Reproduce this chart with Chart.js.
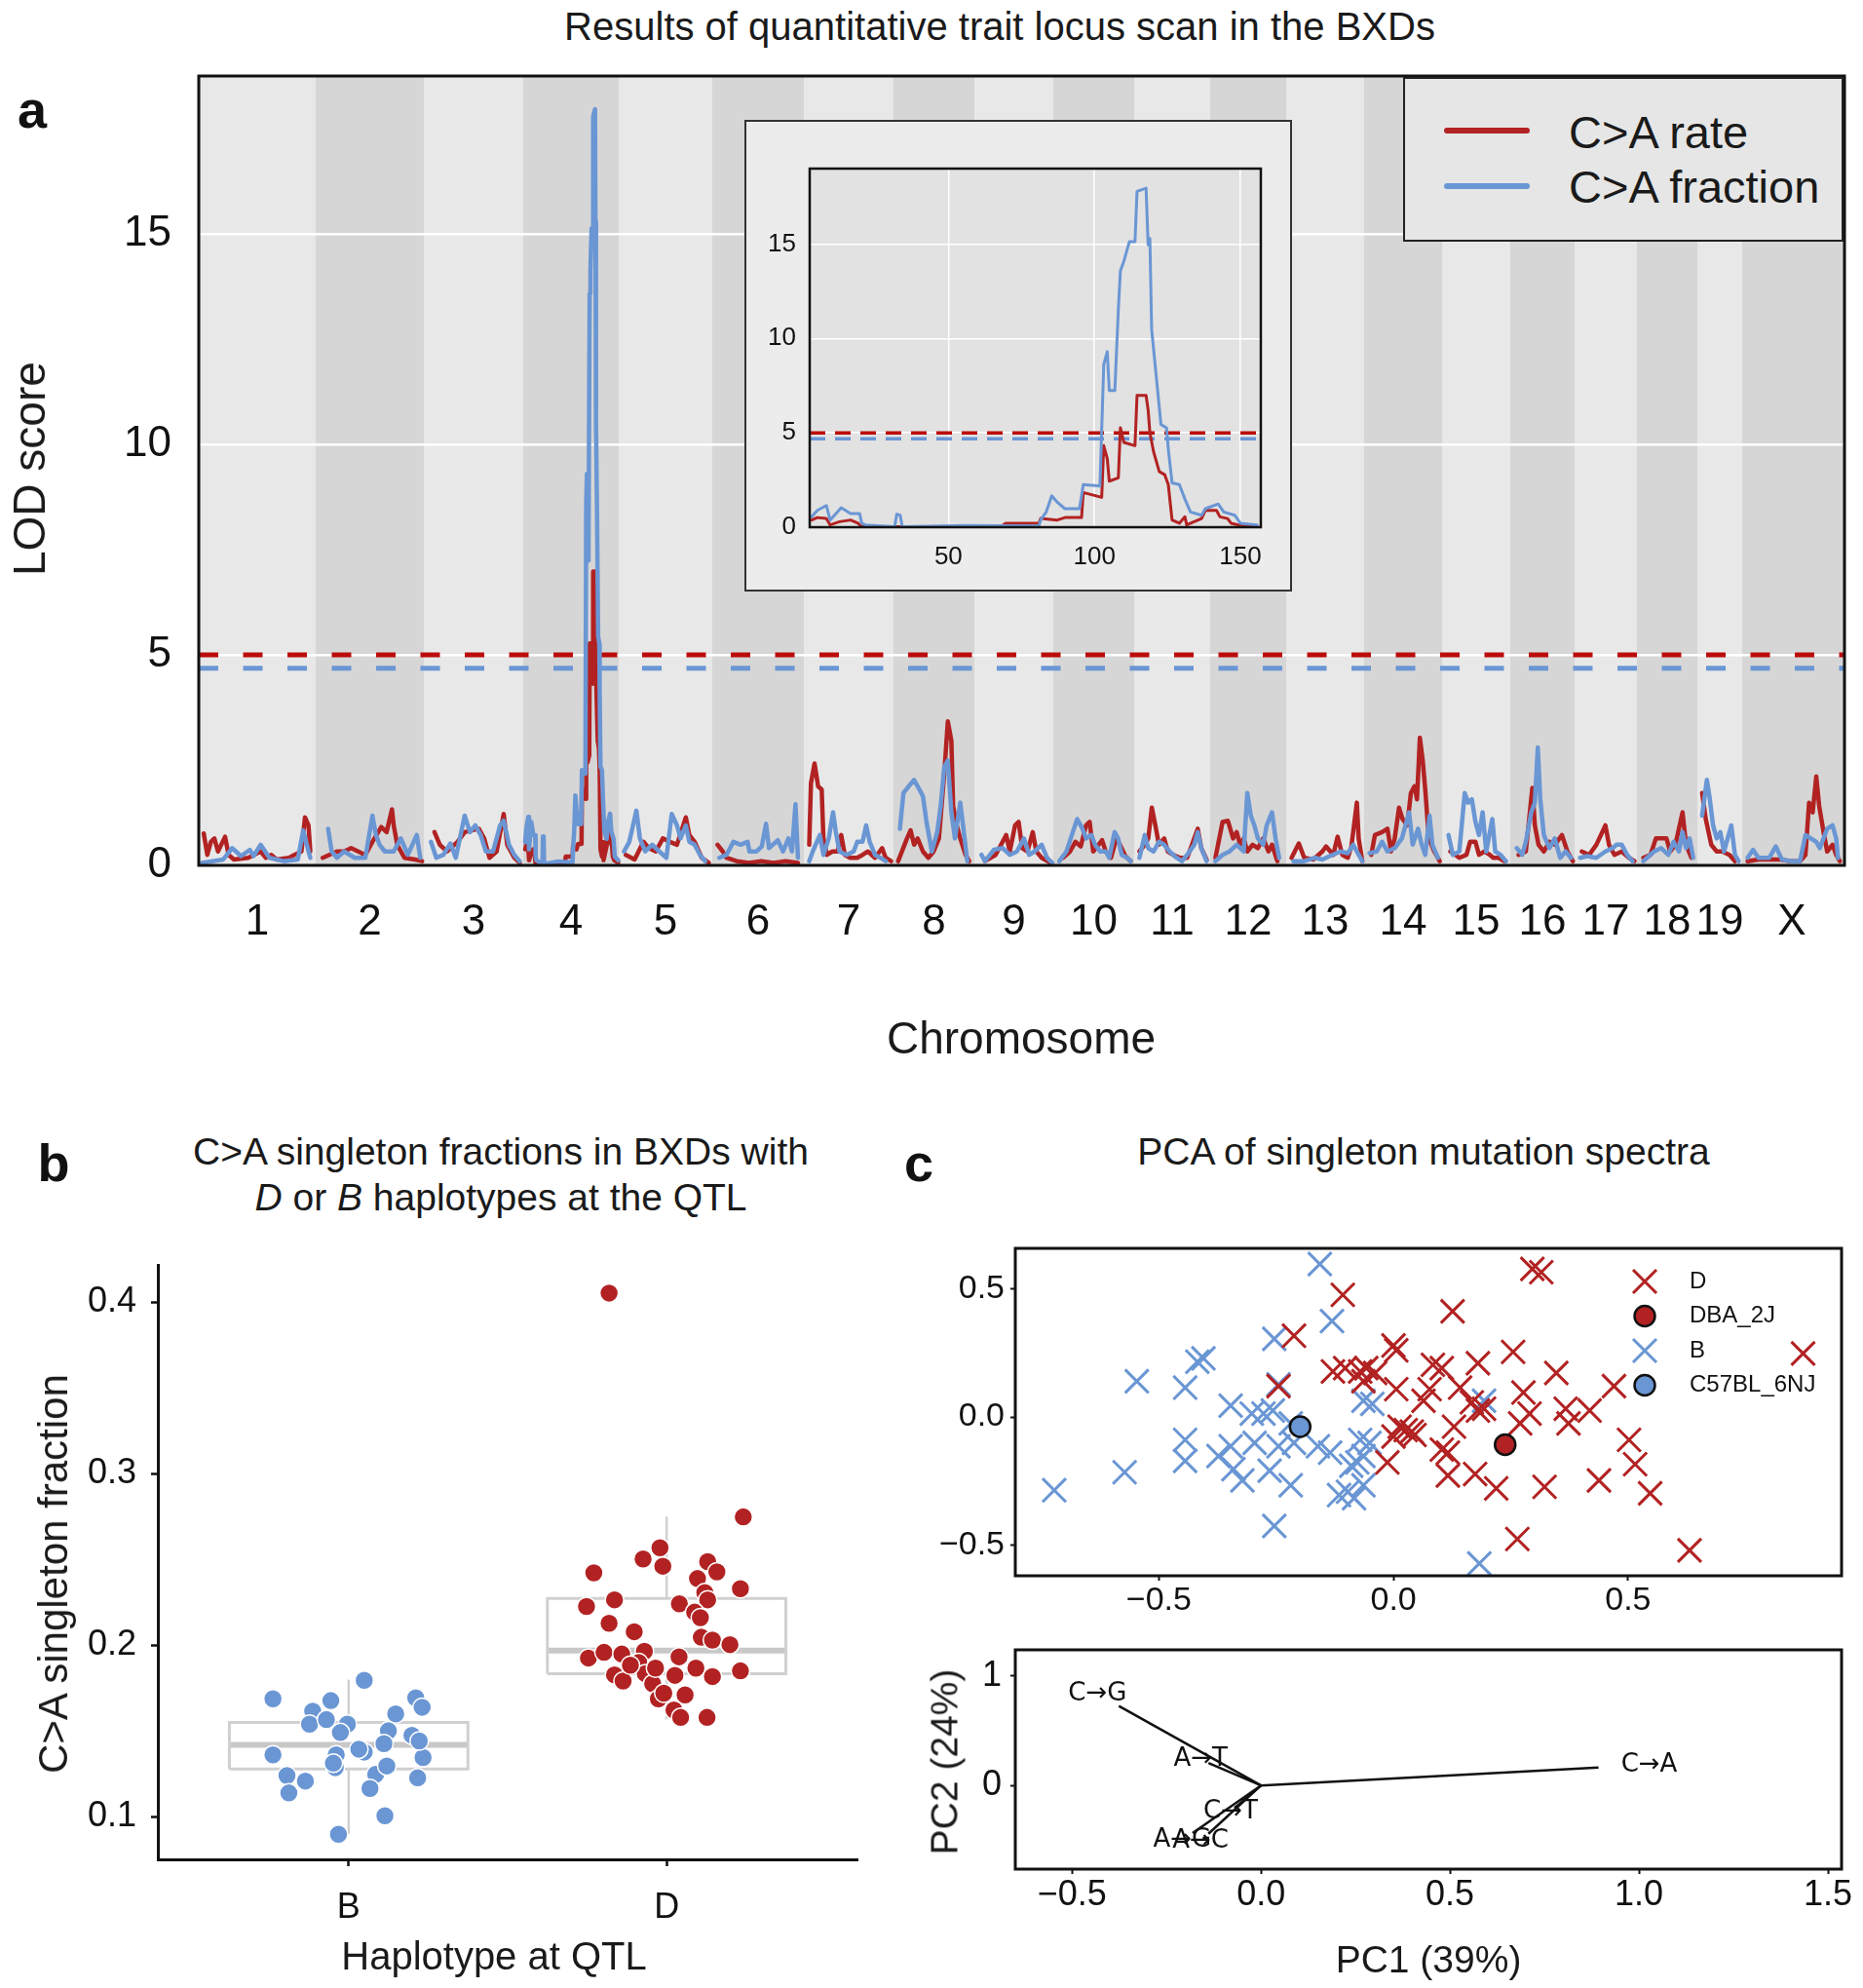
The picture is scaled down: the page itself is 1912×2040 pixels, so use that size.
<!DOCTYPE html>
<html>
<head>
<meta charset="utf-8">
<title>QTL scan in the BXDs</title>
<script src="https://cdn.jsdelivr.net/npm/chart.js@4.4.1/dist/chart.umd.min.js"></script>
<style>
  html, body { margin: 0; padding: 0; background: #ffffff; }
  body { position: relative; width: 1912px; height: 2040px; overflow: hidden;
         font-family: "Liberation Sans", Arial, Helvetica, sans-serif; color: #1a1a1a; }
  canvas { position: absolute; }
  .t { position: absolute; white-space: nowrap; line-height: 1; transform: translate(-50%, -50%); }
  .tl { position: absolute; white-space: nowrap; line-height: 1; transform: translate(0, -50%); }
  .rot { transform: translate(-50%, -50%) rotate(-90deg); }
  .letter { font-weight: bold; font-size: 54px; color: #111; }
  .swatch { position: absolute; width: 88px; height: 6px; border-radius: 3px; }
</style>
</head>
<body>
<!-- panel a -->
<div class="t" style="left:1026px;top:27px;font-size:40px">Results of quantitative trait locus scan in the BXDs</div>
<div class="t letter" style="left:33px;top:112px">a</div>
<canvas id="scan" width="1912" height="1120" style="left:0;top:0;width:1912px;height:1120px"></canvas>
<div class="t rot" style="left:30px;top:481px;font-size:46px">LOD score</div>
<div class="t" style="left:1048px;top:1065px;font-size:46px">Chromosome</div>
<div style="position:absolute;left:764px;top:123px;width:562px;height:484px;box-sizing:border-box;background:#ececec;border:2px solid #333"></div>
<canvas id="inset" width="562" height="484" style="left:764px;top:123px;width:562px;height:484px"></canvas>
<div style="position:absolute;left:1440px;top:79px;width:452px;height:169px;box-sizing:border-box;background:#e6e6e6;border:2.5px solid #222"></div>
<div class="swatch" style="left:1482px;top:131px;background:#b22222"></div>
<div class="swatch" style="left:1482px;top:188px;background:#6a96d4"></div>
<div class="tl" style="left:1610px;top:135px;font-size:47px">C&gt;A rate</div>
<div class="tl" style="left:1610px;top:191px;font-size:47px">C&gt;A fraction</div>

<!-- panel b -->
<div class="t letter" style="left:55px;top:1193px">b</div>
<div class="t" style="left:514px;top:1181px;font-size:39px">C&gt;A singleton fractions in BXDs with</div>
<div class="t" style="left:514px;top:1228px;font-size:39px"><i>D</i> or <i>B</i> haplotypes at the QTL</div>
<canvas id="haplo" width="940" height="790" style="left:0;top:1250px;width:940px;height:790px"></canvas>
<div class="t rot" style="left:55px;top:1615px;font-size:42px">C&gt;A singleton fraction</div>
<div class="t" style="left:507px;top:2007px;font-size:40px">Haplotype at QTL</div>

<!-- panel c -->
<div class="t letter" style="left:943px;top:1193px">c</div>
<div class="t" style="left:1461px;top:1181px;font-size:39px">PCA of singleton mutation spectra</div>
<canvas id="pca" width="972" height="440" style="left:940px;top:1240px;width:972px;height:440px"></canvas>
<canvas id="biplot" width="972" height="390" style="left:940px;top:1650px;width:972px;height:390px"></canvas>
<div class="t rot" style="left:969px;top:1808px;font-size:39px">PC2 (24%)</div>
<div class="t" style="left:1466px;top:2010px;font-size:39px">PC1 (39%)</div>

<script>
// ---------- data: panel a ----------
const chromosomes = ["1","2","3","4","5","6","7","8","9","10","11","12","13","14","15","16","17","18","19","X"];
// chromosome length in Mb (units of the scan positions below)
const chromMb = [195.5,182.1,160.0,156.5,151.8,149.7,145.4,129.4,124.6,130.7,122.1,120.1,120.4,124.9,104.0,98.2,95.0,90.7,61.4,171.0];
// width each chromosome takes on the genome axis of the figure
const chromWidths = [187.4,173.4,159.3,153,150,146.8,143.7,129.6,126.5,129.6,121.8,121.8,125,125,109.3,103.1,100,96.8,71.8,159.3];
const lodTicks = [0, 5, 10, 15];
const insetTicksX = [50, 100, 150];
const rateThreshold = 5.0;
const fractionThreshold = 4.68;

// chromosome 4 in detail (inset), [Mb, LOD]
const insetRate = [[3.2,0.38],[5.1,0.51],[8.2,0.46],[9.5,0.12],[12.7,0.29],[16.5,0.38],[19,0.21],[20.3,0.03],[68,0.03],[69.6,0.21],[81,0.21],[81.6,0.46],[87.3,0.38],[89.9,0.51],[95.6,0.51],[96.2,1.84],[100.6,1.66],[102.5,1.58],[103.2,4.32],[104.4,3.64],[105.1,2.44],[108.2,2.61],[108.9,5.27],[110.1,4.49],[113.9,4.32],[114.6,6.98],[117.7,6.98],[118.4,6.21],[119,5.01],[120.3,3.98],[122.2,2.95],[124.1,2.78],[125.3,2.26],[126.6,0.38],[129.1,0.21],[131,0.55],[131.6,0.12],[136.7,0.46],[138,0.89],[141.8,0.89],[143,0.55],[145.6,0.46],[146.8,0.21],[149.4,0.12],[155.7,0.07]];
const insetFraction = [[3.2,0.55],[5.1,0.89],[8.2,1.15],[9.5,0.38],[13.3,1.03],[16.5,0.72],[19.6,0.72],[20.3,0.21],[21.5,0.12],[31.6,0.03],[32.3,0.69],[33.5,0.63],[34.2,0.03],[55.7,0.09],[81,0.07],[81.6,0.38],[83.5,0.81],[85.4,1.66],[87.3,1.32],[89.9,0.98],[94.9,0.98],[96.2,2.26],[101.9,2.18],[103.2,8.61],[104.4,9.3],[105.1,7.24],[107,7.24],[108.2,11.53],[108.9,13.58],[110.1,14.1],[112,15.13],[113.9,15.13],[114.6,17.79],[117.7,17.96],[118.4,14.96],[119,15.3],[119.6,10.5],[120.9,8.44],[122.8,5.44],[124.7,5.27],[125.3,4.15],[126.6,2.35],[129.1,2.26],[131,1.49],[132.9,0.81],[136.7,0.63],[138,0.98],[142.4,1.23],[144.3,0.81],[148.1,0.63],[150,0.21],[155.7,0.12]];

// genome-wide scans, one list of [Mb, LOD] per chromosome
const rateScan = [
  [[8.3,0.76],[14.3,0.25],[20.2,0.56],[26.1,0.64],[32.1,0.33],[44,0.68],[49.9,0.25],[58.8,0.14],[82.6,0.18],[103.4,0.33],[112.3,0.18],[121.2,0.25],[130.1,0.14],[150.9,0.18],[159.8,0.25],[171.7,0.33],[177.6,1.14],[183.5,0.95],[186.5,0.33]],
  [[11.9,0.18],[35.8,0.33],[47.8,0.33],[59.7,0.41],[71.6,0.33],[83.6,0.25],[95.5,0.56],[110.4,0.91],[119.4,0.79],[128.4,1.33],[131.3,0.95],[137.3,0.49],[149.3,0.18],[167.2,0.14],[179.1,0.1]],
  [[17.1,0.79],[25.7,0.49],[37.1,0.33],[54.2,0.56],[65.7,0.79],[77.1,0.83],[88.5,0.87],[97.1,0.64],[105.6,0.18],[117.1,0.33],[128.5,1.22],[134.2,0.49],[145.6,0.18],[154.2,0.06]],
  insetRate,
  [[11.5,0.25],[25.8,0.14],[40.1,0.56],[48.7,0.41],[60.2,0.33],[71.6,0.64],[83.1,0.56],[94.5,0.49],[108.9,1.14],[114.6,0.72],[123.2,0.56],[134.7,0.18],[146.1,0.06]],
  [[8.6,0.49],[17.2,0.33],[23.1,0.18],[40,0.1],[60,0.06],[80,0.1],[100,0.06],[120,0.1],[140,0.06]],
  [[8.7,0.49],[11.5,1.95],[17.3,2.42],[23.1,1.88],[28.9,1.8],[31.7,0.64],[37.5,0.25],[46.2,0.33],[54.8,0.33],[60.6,0.72],[66.4,0.25],[75,0.18],[86.6,0.18],[95.2,0.25],[103.9,0.33],[115.4,0.18],[126.9,0.41],[132.7,0.18],[141.4,0.1]],
  [[7.4,0.1],[21.6,0.64],[27.3,0.83],[32.9,0.49],[38.6,0.64],[47.1,0.33],[55.7,0.18],[64.2,0.33],[72.7,0.64],[81.2,2.18],[86.9,3.42],[92.6,2.96],[95.4,1.41],[101.1,0.95],[106.8,0.64],[115.3,0.25],[121,0.1]],
  [[16.8,0.1],[33.5,0.25],[50.3,0.72],[55.9,0.33],[64.3,0.95],[69.9,1.03],[75.5,0.41],[83.9,0.33],[92.2,0.79],[97.8,0.33],[106.2,0.18],[120.2,0.06]],
  [[15.6,0.18],[27.1,0.33],[35.7,0.56],[44.4,0.45],[53,0.95],[58.8,1.03],[64.5,0.33],[73.2,0.49],[78.9,0.6],[84.7,0.33],[93.3,0.18],[102,0.64],[107.7,0.49],[116.4,0.22],[125,0.1]],
  [[8.5,0.33],[17,0.49],[22.7,0.64],[28.4,1.37],[34.1,0.95],[39.8,0.49],[48.3,0.64],[54,0.33],[62.5,0.25],[73.8,0.18],[85.2,0.18],[102.2,0.87],[107.9,0.41],[116.4,0.14]],
  [[8.4,0.18],[19.6,1.03],[28,1.06],[36.3,0.64],[41.9,0.79],[47.5,0.49],[53.1,0.64],[58.7,0.33],[67.1,0.49],[75.5,0.41],[83.9,0.64],[92.2,0.33],[97.8,0.49],[106.2,0.1]],
  [[8.4,0.18],[19.6,0.52],[28,0.18],[42,0.14],[56,0.33],[61.6,0.45],[72.8,0.25],[79.5,0.68],[86.8,0.25],[95.2,0.18],[100.8,0.45],[109.2,1.49],[112,0.64],[117.6,0.1]],
  [[11.5,0.25],[17.3,0.72],[28.8,0.79],[37.4,0.87],[43.2,0.33],[49,0.64],[55.9,1.37],[61.6,1.1],[69.1,0.95],[74.9,1.72],[80.6,1.88],[84.7,1.57],[89.3,3.03],[93.9,2.49],[97.9,1.8],[103.7,0.64],[112.3,0.33],[121,0.1]],
  [[12.6,0.33],[26.3,0.18],[37.2,0.25],[42.7,0.56],[50.9,0.56],[56.3,0.25],[64.5,0.33],[72.8,0.25],[78.2,0.18],[86.4,0.18],[94.6,0.1]],
  [[12.7,0.25],[23.7,0.33],[33.7,1.84],[37.5,0.95],[43.1,0.49],[51.3,0.33],[59.6,0.56],[67.9,0.49],[78.9,0.72],[87.2,0.33],[95.5,0.1]],
  [[11,0.33],[22.1,0.25],[33.1,0.49],[46.9,0.95],[52.4,0.49],[60.7,0.25],[71.8,0.33],[82.8,0.18],[91.1,0.1]],
  [[9.6,0.18],[20.3,0.25],[28.3,0.64],[36.3,0.64],[44.3,0.64],[49.7,0.33],[57.7,0.49],[68.4,1.26],[73.7,0.49],[81.7,0.18]],
  [[6.5,1.72],[11.5,1.1],[19,0.49],[26.5,0.33],[34,0.33],[44,0.25],[51.5,0.1]],
  [[9.3,0.1],[28,0.14],[46.7,0.14],[65.3,0.14],[84,0.1],[99.5,0.1],[108.9,0.25],[115.1,1.49],[121.3,1.26],[127.5,2.11],[132.5,1.41],[140,0.79],[146.2,0.33],[155.5,0.49],[161.7,0.25],[168,0.1]]
];
const fractionScan = [
  [[5.3,0.06],[23.2,0.1],[41,0.14],[55.8,0.41],[70.7,0.22],[85.5,0.37],[91.5,0.22],[103.4,0.49],[118.2,0.18],[142,0.1],[165.7,0.14],[174.6,0.83],[180.6,0.49],[186.5,0.18]],
  [[20.9,0.87],[26.9,0.33],[35.8,0.18],[47.8,0.33],[65.7,0.18],[83.6,0.18],[95.5,1.18],[101.5,0.72],[107.5,0.49],[116.4,0.33],[131.3,0.33],[143.3,0.64],[155.2,0.25],[170.1,0.72],[176.1,0.18]],
  [[11.4,0.56],[20,0.18],[31.4,0.25],[42.8,0.52],[51.4,0.18],[65.7,1.18],[74.2,0.79],[82.8,0.95],[91.4,0.72],[99.9,0.33],[111.3,0.33],[122.8,0.95],[128.5,1.06],[137,0.49],[145.6,0.25],[154.2,0.1]],
  insetFraction,
  [[8.6,0.33],[17.2,0.56],[28.7,1.3],[34.4,0.64],[43,0.33],[54.4,0.49],[65.9,0.33],[77.4,0.18],[86,1.22],[94.5,0.95],[100.3,0.64],[108.9,0.95],[114.6,0.56],[123.2,0.49],[131.8,0.25],[140.4,0.1]],
  [[11.5,0.18],[23.1,0.25],[34.6,0.56],[46.2,0.49],[57.8,0.56],[60.7,0.33],[72.3,0.33],[80.9,0.45],[87.9,0.99],[92.6,0.41],[101.2,0.52],[107,0.6],[115.7,0.33],[124.4,0.64],[130.2,0.33],[136,1.45],[140,0.18]],
  [[8.7,0.1],[14.4,0.33],[26,0.72],[31.7,0.25],[40.4,0.64],[47.3,1.26],[51.9,0.79],[57.7,0.33],[69.2,0.25],[80.8,0.33],[86.6,0.56],[95.2,0.56],[101,0.95],[106.7,0.56],[115.4,0.25],[124.1,0.18],[132.7,0.1]],
  [[10.2,0.87],[15.9,1.72],[24.4,1.88],[32.9,2.03],[41.5,1.8],[47.1,1.64],[52.8,1.03],[61.3,0.33],[69.9,0.79],[75.5,1.41],[81.2,2.34],[86.9,2.49],[92.6,1.26],[98.3,0.64],[106.8,1.49],[112.5,0.79],[118.1,0.1]],
  [[11.2,0.25],[16.8,0.1],[30.7,0.37],[44.7,0.41],[55.9,0.25],[67.1,0.33],[78.3,0.64],[86.6,0.25],[95,0.33],[106.2,0.49],[114.6,0.18],[123,0.06]],
  [[9.8,0.1],[21.3,0.33],[30,0.72],[38.6,1.1],[47.2,0.87],[53,0.64],[61.6,0.72],[67.4,0.49],[76,0.33],[84.7,0.33],[90.4,0.18],[99.1,0.79],[104.8,0.64],[110.6,0.25],[119.2,0.18],[125,0.1]],
  [[8.5,0.18],[17,0.72],[22.7,0.41],[31.2,0.33],[39.8,0.56],[48.3,0.49],[56.8,0.33],[68.2,0.18],[76.7,0.1],[85.2,0.25],[96.6,0.49],[102.2,0.79],[107.9,0.41],[116.4,0.1]],
  [[8.4,0.1],[19.6,0.25],[30.7,0.33],[41.9,0.49],[53.1,0.33],[58.7,1.72],[64.3,1.18],[69.9,0.95],[75.5,0.64],[83.9,0.49],[89.4,0.95],[97.8,1.26],[103.4,0.64],[109,0.18]],
  [[11.2,0.1],[28,0.1],[44.8,0.18],[56,0.14],[67.2,0.22],[84,0.33],[95.2,0.29],[103.6,0.49],[112,0.25],[117.6,0.1]],
  [[8.6,0.29],[20.2,0.33],[28.8,0.56],[37.4,0.33],[49,0.41],[60.5,0.64],[72,1.26],[77.8,0.49],[86.4,0.87],[92.2,0.49],[97.9,0.25],[104.8,1.18],[109.4,0.49],[118.1,0.18]],
  [[9.8,0.72],[16.4,0.25],[26.3,0.33],[34.5,1.72],[39.9,1.49],[45.4,1.57],[50.9,1.03],[56.3,0.72],[61.8,1.26],[67.3,0.33],[76.6,1.1],[81,0.33],[89.2,0.25],[97.4,0.1]],
  [[9.9,0.41],[18.2,0.25],[23.7,0.56],[32,1.26],[37.5,1.49],[42,2.8],[45.8,1.57],[51.3,0.72],[59.6,0.41],[67.9,0.64],[76.2,0.18],[84.5,0.33],[92.7,0.18]],
  [[8.3,0.18],[19.3,0.22],[33.1,0.18],[46.9,0.33],[58,0.41],[63.5,0.49],[71.8,0.49],[80,0.25],[88.3,0.1]],
  [[9.6,0.1],[25.6,0.33],[36.3,0.41],[47,0.25],[55,0.56],[63,0.33],[68.4,0.79],[73.7,0.41],[79,0.64],[84.4,0.18]],
  [[6.5,1.18],[13,2.03],[16.5,1.64],[21.5,0.95],[26.5,0.64],[31.5,0.79],[36.5,0.33],[41.5,0.64],[46.5,0.95],[51.5,0.25],[56.5,0.1]],
  [[9.3,0.18],[18.7,0.37],[28,0.18],[46.7,0.18],[57.8,0.45],[68.4,0.14],[84,0.1],[99.5,0.1],[108.9,0.72],[118.2,0.64],[127.5,0.56],[133.7,0.41],[146.2,0.87],[155.5,0.95],[161.7,0.64],[164.8,0.18]]
];

// ---------- data: panel b ----------
const haplotypes = ["B", "D"];
const fractionTicks = [0.1, 0.2, 0.3, 0.4];
// horizontal jitter of each strain around its haplotype column
const bJitter = [-0.238,-0.113,-0.056,-0.123,-0.070,-0.004,0.049,0.148,0.211,0.231,-0.026,0.125,0.199,-0.238,-0.039,0.049,0.111,-0.194,-0.136,-0.042,0.085,0.120,0.217,0.234,0.222,-0.188,0.067,0.114,-0.032,-0.048,0.032];
const bFraction = [0.1688,0.1616,0.1678,0.1541,0.1567,0.1541,0.1796,0.1600,0.1694,0.1639,0.1492,0.1502,0.1476,0.1362,0.1362,0.1378,0.1427,0.1241,0.1209,0.1287,0.1248,0.1297,0.1228,0.1346,0.1443,0.1140,0.1166,0.1007,0.0899,0.1313,0.1395];
const dJitter = [-0.181,0.241,-0.021,-0.074,-0.012,-0.229,0.129,0.158,0.097,0.232,0.120,0.129,-0.164,-0.252,0.040,0.088,0.106,-0.181,-0.102,0.109,0.144,0.199,-0.246,-0.197,-0.141,-0.070,-0.088,0.039,0.092,0.144,0.232,-0.164,-0.137,-0.067,0.026,-0.044,-0.026,-0.009,0.058,0.023,0.044,0.127,-0.035,-0.114];
const dFraction = [0.4052,0.2748,0.2568,0.2503,0.2461,0.2422,0.2487,0.2428,0.2389,0.2330,0.2307,0.2265,0.2265,0.2226,0.2242,0.2193,0.2161,0.2128,0.2079,0.2047,0.2030,0.2004,0.1926,0.1959,0.1949,0.1965,0.1900,0.1933,0.1867,0.1818,0.1851,0.1828,0.1792,0.1835,0.1825,0.1776,0.1688,0.1721,0.1711,0.1623,0.1580,0.1580,0.1867,0.1884];
const boxQ1 = [0.128, 0.1835];
const boxMedian = [0.142, 0.197];
const boxQ3 = [0.155, 0.2273];
const whiskerLow = [0.09, 0.157];
const whiskerHigh = [0.18, 0.275];
const boxHalf = 0.375;

// ---------- data: panel c ----------
const pcaTicks = [-0.5, 0, 0.5];
const dPC1 = [0.296,0.315,-0.108,0.126,-0.212,0.000,0.006,0.255,0.873,-0.129,-0.103,-0.071,-0.058,-0.039,0.084,0.103,0.180,0.347,0.470,-0.245,-0.064,0.006,0.077,0.142,0.277,0.064,0.167,0.193,0.180,0.290,0.367,0.418,0.373,0.013,0.026,0.039,0.045,0.000,0.129,0.270,0.502,0.103,0.116,-0.013,0.515,0.116,0.174,0.219,0.322,0.438,0.547,0.264,0.631];
const dPC2 = [0.576,0.563,0.475,0.411,0.316,0.278,0.259,0.253,0.247,0.177,0.190,0.177,0.190,0.171,0.203,0.190,0.209,0.171,0.120,0.120,0.139,0.108,0.108,0.114,0.095,0.063,0.057,0.032,0.025,0.013,0.032,0.025,-0.025,-0.038,-0.051,-0.057,-0.070,-0.076,-0.038,-0.025,-0.089,-0.127,-0.139,-0.177,-0.184,-0.228,-0.222,-0.278,-0.272,-0.247,-0.297,-0.475,-0.519];
const bPC1 = [-0.157,-0.131,-0.254,-0.418,-0.405,-0.547,-0.444,-0.245,-0.347,-0.302,-0.277,-0.257,-0.444,-0.347,-0.296,-0.245,-0.212,-0.161,-0.135,-0.071,-0.051,-0.064,-0.045,0.193,-0.444,-0.573,-0.341,-0.264,-0.077,-0.090,-0.322,-0.219,-0.116,-0.097,-0.064,-0.084,-0.723,-0.254,0.183,-0.219,-0.373,-0.064];
const bPC2 = [0.595,0.373,0.304,0.215,0.228,0.139,0.114,0.127,0.044,0.013,0.013,0.025,-0.089,-0.114,-0.101,-0.114,-0.101,-0.114,-0.139,-0.089,-0.101,0.063,0.051,0.063,-0.171,-0.215,-0.203,-0.209,-0.177,-0.190,-0.247,-0.266,-0.304,-0.291,-0.266,-0.316,-0.285,-0.424,-0.570,-0.025,-0.152,-0.152];
const dbaPC = [0.238, -0.108];
const c57PC = [-0.199, -0.038];
const biplotTicksX = [-0.5, 0, 0.5, 1.0, 1.5];
const biplotTicksY = [0, 1];
const loadingLabels = ["C\u2192A", "C\u2192G", "A\u2192T", "C\u2192T", "A\u2192G", "A\u2192C"];
const loadingPC1 = [0.893, -0.376, -0.139, -0.07, -0.181, -0.139];
const loadingPC2 = [0.163, 0.727, 0.206, -0.207, -0.435, -0.442];
const labelStretch = 1.15;

// ---------- styling ----------
const RED = "#b22222";
const BLUE = "#6a96d4";
const INK = "#111111";
const FONT = '"Liberation Sans", Arial, Helvetica, sans-serif';
Chart.defaults.font.family = FONT;
Chart.defaults.color = INK;
Chart.defaults.animation = false;
Chart.defaults.plugins.legend.display = false;
Chart.defaults.plugins.tooltip.enabled = false;

const setTicks = (values) => (scale) => { scale.ticks = values.map((v) => ({ value: v })); };
const xy = (xs, ys) => xs.map((x, i) => ({ x: x, y: ys[i] }));
const hline = (x0, x1, y) => [{ x: x0, y: y }, { x: x1, y: y }];

const framePlugin = (width) => ({
  id: "frame",
  afterDraw(chart) {
    const { ctx, chartArea: a } = chart;
    ctx.save();
    ctx.strokeStyle = INK;
    ctx.lineWidth = width;
    ctx.strokeRect(a.left, a.top, a.right - a.left, a.bottom - a.top);
    ctx.restore();
  }
});

// ---------- panel a: genome scan ----------
const chromStarts = [];
const genomeLength = chromWidths.reduce((acc, w, i) => { chromStarts[i] = acc; return acc + w; }, 0);
const chromCenters = chromStarts.map((s, i) => s + chromWidths[i] / 2);
const genomeMax = genomeLength * 1689 / 1686;

function scanPoints(scan) {
  const pts = [];
  scan.forEach((chrom, i) => {
    chrom.forEach(([mb, lod]) => pts.push({ x: chromStarts[i] + mb / chromMb[i] * chromWidths[i], y: lod }));
    pts.push({ x: chromStarts[i] + chromWidths[i], y: null }); // no line across chromosomes
  });
  return pts;
}

const bandPlugin = {
  id: "bands",
  beforeDraw(chart) {
    const { ctx, chartArea: a, scales: { x } } = chart;
    ctx.save();
    ctx.fillStyle = "#d6d6d6";
    ctx.fillRect(a.left, a.top, a.right - a.left, a.bottom - a.top);
    chromStarts.forEach((s, i) => {
      const x0 = x.getPixelForValue(s);
      const x1 = x.getPixelForValue(s + chromWidths[i]);
      ctx.fillStyle = i % 2 === 0 ? "#e8e8e8" : "#d6d6d6";
      ctx.fillRect(x0, a.top, x1 - x0, a.bottom - a.top);
    });
    ctx.restore();
  }
};

const curve = (data, color, width, order) => ({
  data: data, showLine: true, borderColor: color, borderWidth: width, pointRadius: 0,
  borderJoinStyle: "round", borderCapStyle: "round", spanGaps: false, order: order
});
const dashed = (data, color, width, dash, order) => ({
  data: data, showLine: true, borderColor: color, borderWidth: width, pointRadius: 0,
  borderDash: dash, order: order
});

new Chart(document.getElementById("scan"), {
  type: "scatter",
  data: {
    datasets: [
      curve(scanPoints(fractionScan), BLUE, 4.5, 0),
      curve(scanPoints(rateScan), RED, 4.5, 1),
      dashed(hline(0, genomeMax, rateThreshold), "#bb0c0c", 5, [20, 25.5], 2),
      dashed(hline(0, genomeMax, fractionThreshold), "#6a96d4", 5, [20, 25.5], 2)
    ]
  },
  options: {
    responsive: false, devicePixelRatio: 1,
    layout: { padding: { top: 78, right: 19, left: 0, bottom: 0 } },
    scales: {
      x: {
        type: "linear", min: 0, max: genomeMax,
        afterBuildTicks: setTicks(chromCenters),
        grid: { display: false, drawTicks: false }, border: { display: false },
        ticks: { autoSkip: false, maxRotation: 0, padding: 32, font: { size: 44 }, color: INK,
                 callback: (v, i) => chromosomes[i] },
        afterFit: (s) => { s.height = 232; }
      },
      y: {
        min: 0, max: 18.75,
        afterBuildTicks: setTicks(lodTicks),
        grid: { color: (c) => (c.tick && c.tick.value === 0 ? "rgba(0,0,0,0)" : "#ffffff"), lineWidth: 2.5, drawTicks: false },
        border: { display: false },
        ticks: { padding: 28, font: { size: 44 }, color: INK },
        afterFit: (s) => { s.width = 204; }
      }
    }
  },
  plugins: [bandPlugin, framePlugin(3)]
});

// inset: chromosome 4
const insetBg = {
  id: "insetBg",
  beforeDraw(chart) {
    const { ctx, chartArea: a } = chart;
    ctx.save();
    ctx.fillStyle = "#e2e2e2";
    ctx.fillRect(a.left, a.top, a.right - a.left, a.bottom - a.top);
    ctx.restore();
  }
};
const insetXY = (arr) => arr.map(([mb, lod]) => ({ x: mb, y: lod }));

new Chart(document.getElementById("inset"), {
  type: "scatter",
  data: {
    datasets: [
      curve(insetXY(insetFraction), BLUE, 3, 0),
      curve(insetXY(insetRate), RED, 3, 1),
      dashed(hline(2.5, 157, rateThreshold), "#bb0c0c", 3.5, [16, 10], 2),
      dashed(hline(2.5, 157, fractionThreshold), "#6a96d4", 3.5, [16, 10], 2)
    ]
  },
  options: {
    responsive: false, devicePixelRatio: 1,
    layout: { padding: { top: 50, right: 32, left: 0, bottom: 0 } },
    scales: {
      x: {
        type: "linear", min: 2.5, max: 157,
        afterBuildTicks: setTicks(insetTicksX),
        grid: { color: "#ffffff", lineWidth: 1.5, drawTicks: false }, border: { display: false },
        ticks: { padding: 15, font: { size: 26 }, color: INK, maxRotation: 0 },
        afterFit: (s) => { s.height = 66; }
      },
      y: {
        min: 0, max: 19,
        afterBuildTicks: setTicks(lodTicks),
        grid: { color: (c) => (c.tick && c.tick.value === 0 ? "rgba(0,0,0,0)" : "#ffffff"), lineWidth: 1.5, drawTicks: false },
        border: { display: false },
        ticks: { padding: 14, font: { size: 26 }, color: INK },
        afterFit: (s) => { s.width = 67; }
      }
    }
  },
  plugins: [insetBg, framePlugin(2.5)]
});

// ---------- panel b: haplotype boxes ----------
const boxSets = [];
haplotypes.forEach((h, g) => {
  const x0 = g - boxHalf, x1 = g + boxHalf;
  const line = (data, color, width) => ({ data: data, showLine: true, borderColor: color, borderWidth: width, pointRadius: 0, order: 2 });
  boxSets.push(line([{ x: x0, y: boxQ1[g] }, { x: x1, y: boxQ1[g] }, { x: x1, y: boxQ3[g] }, { x: x0, y: boxQ3[g] }, { x: x0, y: boxQ1[g] }], "#d0d0d0", 3));
  boxSets.push(line([{ x: g, y: whiskerLow[g] }, { x: g, y: boxQ1[g] }], "#d0d0d0", 2.5));
  boxSets.push(line([{ x: g, y: boxQ3[g] }, { x: g, y: whiskerHigh[g] }], "#d0d0d0", 2.5));
  boxSets.push(line(hline(x0, x1, boxMedian[g]), "#c8c8c8", 6));
});
// each strain sits at its haplotype column plus its jitter
const column = (g, jitter, values) => jitter.map((j, i) => ({ x: g + j, y: values[i] }));
const dots = (data, color) => ({
  data: data, pointRadius: 9.5, pointBackgroundColor: color, pointBorderColor: "#ffffff",
  pointBorderWidth: 1.5, showLine: false, order: 0
});

const axisStyle = {
  grid: { drawOnChartArea: false, drawTicks: true, tickLength: 7, tickColor: INK, tickWidth: 2.5 },
  border: { display: true, color: INK, width: 3 }
};

new Chart(document.getElementById("haplo"), {
  type: "scatter",
  data: { datasets: boxSets.concat([dots(column(0, bJitter, bFraction), BLUE), dots(column(1, dJitter, dFraction), RED)]) },
  options: {
    responsive: false, devicePixelRatio: 1,
    layout: { padding: { top: 48, right: 60, left: 0, bottom: 0 } },
    scales: {
      x: Object.assign({
        type: "linear", min: -0.6, max: 1.6,
        afterBuildTicks: setTicks([0, 1]),
        ticks: { padding: 21, font: { size: 36 }, color: INK, maxRotation: 0, callback: (v, i) => haplotypes[i] },
        afterFit: (s) => { s.height = 132; }
      }, axisStyle),
      y: Object.assign({
        min: 0.0753, max: 0.4216,
        afterBuildTicks: setTicks(fractionTicks),
        ticks: { padding: 15, font: { size: 36 }, color: INK, callback: (v) => v.toFixed(1) },
        afterFit: (s) => { s.width = 162; }
      }, axisStyle)
    }
  }
});

// ---------- panel c: PCA scatter ----------
const crosses = (data, color) => ({
  data: data, pointStyle: "crossRot", pointRadius: 17, pointBorderWidth: 3,
  pointBorderColor: color, pointBackgroundColor: color, showLine: false, order: 1
});
const parent = (pc, color) => ({
  data: [{ x: pc[0], y: pc[1] }], pointStyle: "circle", pointRadius: 10.5, pointBorderWidth: 2.5,
  pointBorderColor: INK, pointBackgroundColor: color, showLine: false, order: 0
});
const pcaLegend = [
  { label: "D", set: 0 },
  { label: "DBA_2J", set: 1 },
  { label: "B", set: 2 },
  { label: "C57BL_6NJ", set: 3 }
];
const legendPlugin = {
  id: "pcaLegend",
  afterDatasetsDraw(chart) {
    const { ctx, chartArea: a } = chart;
    ctx.save();
    ctx.font = "24px " + FONT;
    ctx.textBaseline = "middle";
    ctx.textAlign = "left";
    pcaLegend.forEach((item, i) => {
      const ds = chart.data.datasets[item.set];
      const cx = a.right - 202, cy = a.top + 34 + i * 35.5;
      ctx.strokeStyle = ds.pointBorderColor;
      ctx.fillStyle = ds.pointBackgroundColor;
      ctx.lineWidth = ds.pointBorderWidth;
      Chart.helpers.drawPoint(ctx, { pointStyle: ds.pointStyle, radius: ds.pointRadius, rotation: 0, borderWidth: ds.pointBorderWidth }, cx, cy);
      ctx.fillStyle = INK;
      ctx.fillText(item.label, a.right - 156, cy);
    });
    ctx.restore();
  }
};
const pcaAxis = {
  grid: { drawOnChartArea: false, drawTicks: true, tickLength: 5, tickColor: INK, tickWidth: 2 },
  border: { display: false }
};

new Chart(document.getElementById("pca"), {
  type: "scatter",
  data: {
    datasets: [
      crosses(xy(dPC1, dPC2), RED),
      parent(dbaPC, RED),
      crosses(xy(bPC1, bPC2), BLUE),
      parent(c57PC, BLUE)
    ]
  },
  options: {
    responsive: false, devicePixelRatio: 1,
    layout: { padding: { top: 41, right: 22, left: 0, bottom: 0 } },
    scales: {
      x: Object.assign({
        type: "linear", min: -0.806, max: 0.955,
        afterBuildTicks: setTicks(pcaTicks),
        ticks: { padding: 0, font: { size: 34 }, color: INK, maxRotation: 0, callback: (v) => v.toFixed(1).replace("-", "\u2212") },
        afterFit: (s) => { s.height = 63; }
      }, pcaAxis),
      y: Object.assign({
        min: -0.618, max: 0.656,
        afterBuildTicks: setTicks(pcaTicks),
        ticks: { padding: 6, font: { size: 34 }, color: INK, callback: (v) => v.toFixed(1).replace("-", "\u2212") },
        afterFit: (s) => { s.width = 102; }
      }, pcaAxis)
    }
  },
  plugins: [legendPlugin, framePlugin(3)]
});

// ---------- panel c: loadings biplot ----------
const loadingLabelPlugin = {
  id: "loadingLabels",
  afterDatasetsDraw(chart) {
    const { ctx, scales: { x, y } } = chart;
    ctx.save();
    ctx.font = '26px "DejaVu Sans", ' + FONT;
    ctx.fillStyle = INK;
    ctx.textAlign = "center";
    ctx.textBaseline = "middle";
    loadingLabels.forEach((t, i) => {
      ctx.fillText(t, x.getPixelForValue(loadingPC1[i] * labelStretch), y.getPixelForValue(loadingPC2[i] * labelStretch));
    });
    ctx.restore();
  }
};

new Chart(document.getElementById("biplot"), {
  type: "scatter",
  data: {
    datasets: loadingLabels.map((t, i) => ({
      data: [{ x: 0, y: 0 }, { x: loadingPC1[i], y: loadingPC2[i] }],
      showLine: true, borderColor: INK, borderWidth: 2.5, pointRadius: 0
    }))
  },
  options: {
    responsive: false, devicePixelRatio: 1,
    layout: { padding: { top: 43, right: 22, left: 0, bottom: 0 } },
    scales: {
      x: Object.assign({
        type: "linear", min: -0.65, max: 1.536,
        afterBuildTicks: setTicks(biplotTicksX),
        ticks: { padding: 0, font: { size: 36 }, color: INK, maxRotation: 0, callback: (v) => v.toFixed(1).replace("-", "\u2212") },
        afterFit: (s) => { s.height = 122; }
      }, pcaAxis),
      y: Object.assign({
        min: -0.765, max: 1.24,
        afterBuildTicks: setTicks(biplotTicksY),
        ticks: { padding: 9, font: { size: 36 }, color: INK },
        afterFit: (s) => { s.width = 102; }
      }, pcaAxis)
    }
  },
  plugins: [loadingLabelPlugin, framePlugin(3)]
});
</script>
</body>
</html>
